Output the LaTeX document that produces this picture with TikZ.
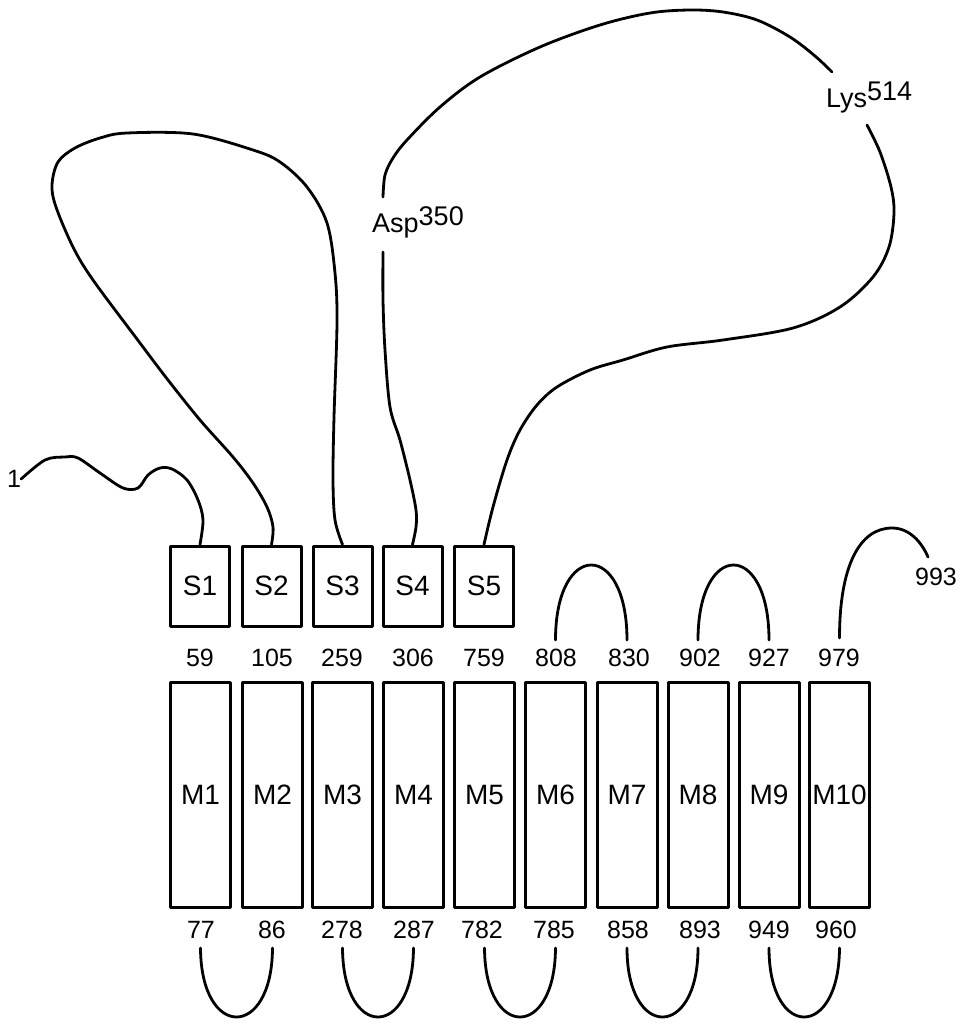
\documentclass[tikz,border=0pt]{standalone}
\usepackage{fontspec}
\setmainfont{Liberation Sans}
\usetikzlibrary{calc}
\begin{document}
\begin{tikzpicture}[x=1pt,y=-1pt,
  line join=round, line cap=round,
  sbox/.style={draw, line width=3pt, minimum width=59pt, minimum height=80pt, inner sep=0pt, font=\fontsize{28}{30}\selectfont},
  mbox/.style={draw, line width=3pt, minimum width=60pt, minimum height=225pt, inner sep=0pt, font=\fontsize{28}{30}\selectfont},
  num/.style={inner sep=0pt, font=\fontsize{25}{27}\selectfont},
  lbl/.style={inner sep=0pt, font=\fontsize{27}{29}\selectfont},
  chain/.style={line width=2.8pt},
]
\useasboundingbox (0,0) rectangle (963,1023);

% S boxes
\node[sbox] (S1) at (200,586) {S1};
\node[sbox] (S2) at (271.5,586) {S2};
\node[sbox] (S3) at (342.5,586) {S3};
\node[sbox] (S4) at (412.5,586) {S4};
\node[sbox] (S5) at (484,586) {S5};

% M boxes
\node[mbox] (M1) at (200.5,794.5) {M1};
\node[mbox] (M2) at (272.5,794.5) {M2};
\node[mbox] (M3) at (342.5,794.5) {M3};
\node[mbox] (M4) at (413.5,794.5) {M4};
\node[mbox] (M5) at (484.5,794.5) {M5};
\node[mbox] (M6) at (555.5,794.5) {M6};
\node[mbox] (M7) at (627,794.5) {M7};
\node[mbox] (M8) at (698,794.5) {M8};
\node[mbox] (M9) at (769,794.5) {M9};
\node[mbox] (M10) at (839.5,794.5) {M10};

% top numbers
\node[num] (t59) at (200,658) {59};
\node[num] (t105) at (272,658) {105};
\node[num] (t259) at (342,658) {259};
\node[num] (t306) at (413,658) {306};
\node[num] (t759) at (484,658) {759};
\node[num] (t808) at (556,658) {808};
\node[num] (t830) at (629,658) {830};
\node[num] (t902) at (700,658) {902};
\node[num] (t927) at (769,658) {927};
\node[num] (t979) at (839,658) {979};
\node[num] (t993) at (936,577) {993};

% bottom numbers
\node[num] (b77) at (201,930) {77};
\node[num] (b86) at (272,930) {86};
\node[num] (b278) at (342,930) {278};
\node[num] (b287) at (414,930) {287};
\node[num] (b782) at (482,930) {782};
\node[num] (b785) at (554,930) {785};
\node[num] (b858) at (628,930) {858};
\node[num] (b893) at (700,930) {893};
\node[num] (b949) at (769,930) {949};
\node[num] (b960) at (836,930) {960};

% N-terminus label
\node[num] (n1) at (14,479) {1};

% residue labels
\node[lbl, anchor=base west] (asp) at (372,232) {Asp\raisebox{7pt}{350}};
\node[lbl, anchor=base west] (lys) at (826,107) {Lys\raisebox{7pt}{514}};

% free ends of the chain
\coordinate (aspbot) at (383,252);
\coordinate (asptop) at (383,197);
\coordinate (lystop) at (832,72);
\coordinate (lysbot) at (867,125);
\coordinate (c993) at (928,557);

% N-terminal tail to S1
\draw[chain] plot[smooth, tension=0.55] coordinates {
  (n1.east) (45,460) (65,457) (78,458) (100,473) (123,488) (138,488)
  (148,475) (160,468) (172,469) (187,480) (198,500) (203,520) (S1.north)};

% S2 - S3 loop
\draw[chain] plot[smooth, tension=0.55] coordinates {
  (S2.north) (273,527) (267,507) (253,483) (233,457) (200,420) (168,380)
  (140,343) (93,280) (73,247) (56,207) (52,185) (58,162) (75,148) (100,138)
  (127,133) (193,134) (253,150) (280,162) (307,187) (327,223) (335,273)
  (337,323) (334,417) (333,480) (335,520) (S3.north)};

% S4 - S5 large loop
\draw[chain] plot[smooth, tension=0.55] coordinates {
  (S4.north) (416,527) (416,510) (410,480) (400,440) (390,407) (385,350)
  (383,300) (aspbot)};
\draw[chain] plot[smooth, tension=0.55] coordinates {
  (asptop) (385,175) (393,158) (407,140) (440,107) (480,77) (540,47)
  (600,25) (650,13) (690,10) (723,12) (757,20) (790,37) (815,56) (lystop)};
\draw[chain] plot[smooth, tension=0.55] coordinates {
  (lysbot) (880,152) (891,187) (894,213) (889,247) (873,277) (840,307)
  (793,328) (723,340) (667,347) (623,360) (590,370) (557,387) (537,405)
  (520,430) (507,460) (493,507) (S5.north)};

% extracellular arches
\draw[chain] (M6.north |- 0,640) .. controls (555.5,540) and (627,540) .. (M7.north |- 0,640);
\draw[chain] (M8.north |- 0,640) .. controls (698,540) and (769,540) .. (M9.north |- 0,640);
\draw[chain] (M10.north |- 0,638) .. controls (839.5,565) and (860,528) .. (892,528)
  .. controls (910,528) and (922,543) .. (c993);

% cytoplasmic loops
\draw[chain] (M1.south |- 0,948) .. controls (201,1040) and (272,1040) .. (M2.south |- 0,948);
\draw[chain] (M3.south |- 0,948) .. controls (343,1040) and (413,1040) .. (M4.south |- 0,948);
\draw[chain] (M5.south |- 0,948) .. controls (485,1040) and (555,1040) .. (M6.south |- 0,948);
\draw[chain] (M7.south |- 0,948) .. controls (627,1040) and (698,1040) .. (M8.south |- 0,948);
\draw[chain] (M9.south |- 0,948) .. controls (769,1040) and (839,1040) .. (M10.south |- 0,948);
\end{tikzpicture}
\end{document}
